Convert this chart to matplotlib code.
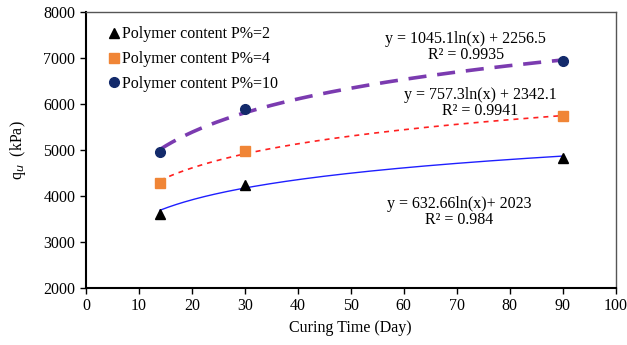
import matplotlib
matplotlib.use("Agg")
import matplotlib.pyplot as plt
import numpy as np

plt.rcParams['font.family'] = ['Liberation Serif', 'DejaVu Serif']

# curing time (days) and measured q_u (kPa)
days = [14, 30, 90]
qu_p2 = [3610, 4250, 4830]
qu_p4 = [4290, 4980, 5730]
qu_p10 = [4950, 5900, 6930]

# logarithmic trend line coefficients: y = a*ln(x) + b
fit_p2 = (632.66, 2023)
fit_p4 = (757.3, 2342.1)
fit_p10 = (1045.1, 2256.5)

labels = ['Polymer content P%=2', 'Polymer content P%=4', 'Polymer content P%=10']
eq_texts = ['y = 632.66ln(x)+ 2023\nR² = 0.984',
            'y = 757.3ln(x) + 2342.1\nR² = 0.9941',
            'y = 1045.1ln(x) + 2256.5\nR² = 0.9935']

fs = 11.5

fig = plt.figure(figsize=(6.27, 3.45), dpi=100)
ax = fig.add_axes([0.137, 0.165, 0.845, 0.8])

xs = np.linspace(14, 90, 200)
ax.plot(xs, fit_p2[0] * np.log(xs) + fit_p2[1], color='#1f1fff', lw=1.0)
ax.plot(xs, fit_p4[0] * np.log(xs) + fit_p4[1], color='#ff2020', lw=1.2,
        linestyle=(0, (3, 3)))
ax.plot(xs, fit_p10[0] * np.log(xs) + fit_p10[1], color='#7b3bb0', lw=2.6,
        linestyle=(0, (5, 3)))

ax.plot(days, qu_p2, '^', color='black', ms=7, linestyle='none', label=labels[0])
ax.plot(days, qu_p4, 's', color='#f08536', ms=6.5, linestyle='none', label=labels[1])
ax.plot(days, qu_p10, 'o', color='#132a6b', ms=7, linestyle='none', label=labels[2])

ax.text(70.4, 3650, eq_texts[0], ha='center', va='center', fontsize=fs, linespacing=1.0)
ax.text(74.4, 6020, eq_texts[1], ha='center', va='center', fontsize=fs, linespacing=1.0)
ax.text(71.7, 7250, eq_texts[2], ha='center', va='center', fontsize=fs, linespacing=1.0)

ax.set_xlim(0, 100)
ax.set_ylim(2000, 8000)
ax.set_xticks(range(0, 101, 10))
ax.set_yticks(range(2000, 8001, 1000))
ax.tick_params(direction='out', length=4, labelsize=fs, width=1)
for s in ['left', 'bottom']:
    ax.spines[s].set_linewidth(1.5)
    ax.spines[s].set_color('black')
for s in ['top', 'right']:
    ax.spines[s].set_linewidth(1.0)
    ax.spines[s].set_color('#555555')

ax.set_xlabel('Curing Time (Day)', fontsize=fs, labelpad=4)
ax.set_ylabel('q$_u$  (kPa)', fontsize=fs, labelpad=11)

ax.legend(loc='upper left', bbox_to_anchor=(0.01, 1.0), frameon=False, fontsize=fs,
          handletextpad=0.0, handlelength=1.0, borderaxespad=0.5, borderpad=0.4,
          labelspacing=0.55)

fig.savefig('out.png', dpi=100)
